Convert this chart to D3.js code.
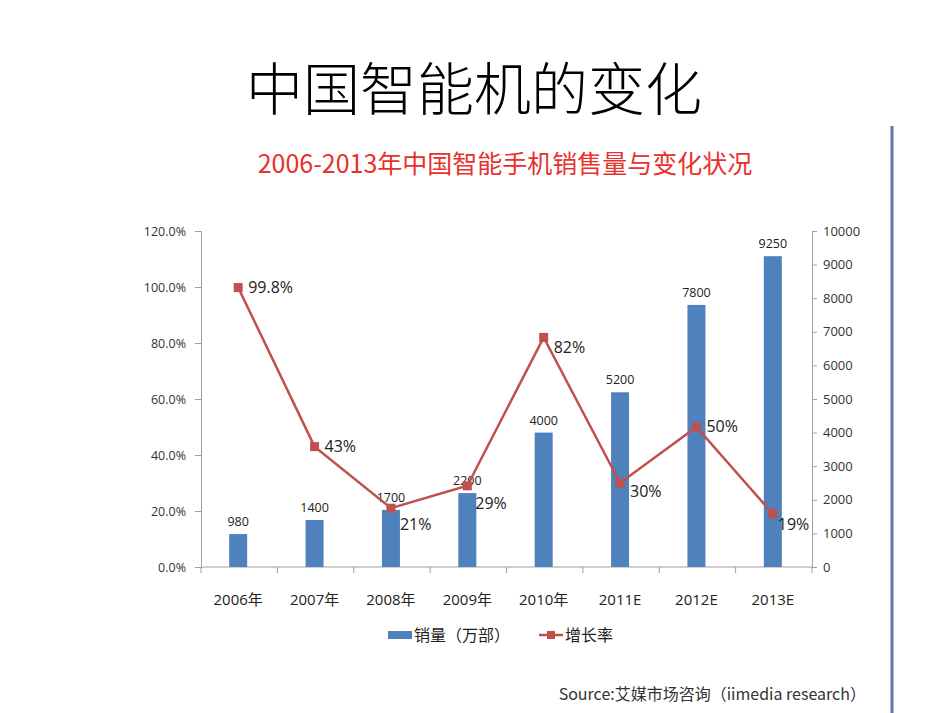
<!DOCTYPE html>
<html><head><meta charset="utf-8">
<script src="https://cdn.jsdelivr.net/npm/d3@7/dist/d3.min.js"></script>
<style>
body{margin:0;background:#fff;}
svg{display:block;}
</style></head>
<body><svg id="c" width="950" height="713"></svg>
<script>
const categories = ["2006年","2007年","2008年","2009年","2010年","2011E","2012E","2013E"];
const sales = [980,1400,1700,2200,4000,5200,7800,9250];
const growth = [0.998,0.43,0.21,0.29,0.82,0.30,0.50,0.19];
const growthLabels = ["99.8%","43%","21%","29%","82%","30%","50%","19%"];
const leftTicks = [0,0.2,0.4,0.6,0.8,1.0,1.2];
const rightTicks = [0,1000,2000,3000,4000,5000,6000,7000,8000,9000,10000];
const seriesNames = ["销量（万部）","增长率"];

// label offsets (style only)
const lineLabelOffsets = [[10,5],[10,5],[9,22],[8,23],[10,16],[10,14],[10,5],[5,16]];

const svg = d3.select("#c");
const cjk = "'Noto Sans CJK SC', 'Noto Sans', sans-serif";
const num = "'Open Sans','Liberation Sans', 'Noto Sans CJK SC', sans-serif";
const blue = "#4f81bd", red = "#c0504d";

const L = 201, R = 812, T = 231, B = 567;

svg.append("text").attr("x",474).attr("y",110).attr("text-anchor","middle")
  .attr("font-family",cjk).attr("font-size",57).attr("font-weight",300).attr("fill","#000").text("中国智能机的变化");

svg.append("text").attr("x",505).attr("y",173).attr("text-anchor","middle")
  .attr("font-family",cjk).attr("font-size",25).attr("font-weight",400).attr("fill","#e8302c")
  .text("2006-2013年中国智能手机销售量与变化状况");

// slide border line
svg.append("line").attr("x1",892).attr("x2",892).attr("y1",126).attr("y2",713)
  .attr("stroke","#5b7aa5").attr("stroke-width",3);

const x = d3.scaleBand().domain(categories).range([L,R]);
const yL = d3.scaleLinear().domain([0,1.2]).range([B,T]);
const yR = d3.scaleLinear().domain([0,10000]).range([B,T]);

// left axis
const gL = svg.append("g").attr("transform",`translate(${L},0)`)
  .call(d3.axisLeft(yL).tickValues(leftTicks).tickFormat(d3.format(".1%")).tickSizeOuter(0).tickSize(6).tickPadding(9));
gL.selectAll("path,line").attr("stroke","#a0a0a0");
gL.selectAll("text").attr("font-family",num).attr("font-size",12.5).attr("fill","#333");

// right axis
const gR = svg.append("g").attr("transform",`translate(${R},0)`)
  .call(d3.axisRight(yR).tickValues(rightTicks).tickFormat(d3.format("d")).tickSizeOuter(0).tickSize(5).tickPadding(6));
gR.selectAll("path,line").attr("stroke","#a0a0a0");
gR.selectAll("text").attr("font-family",num).attr("font-size",13).attr("fill","#333");

// x axis
const gX = svg.append("g").attr("transform",`translate(0,${B})`);
gX.append("line").attr("x1",L).attr("x2",R).attr("stroke","#a0a0a0");
gX.selectAll("line.tk").data(categories.concat([null])).join("line").attr("class","tk")
  .attr("x1",(d,i)=> i<categories.length ? x(d) : x(categories[categories.length-1])+x.bandwidth())
  .attr("x2",(d,i)=> i<categories.length ? x(d) : x(categories[categories.length-1])+x.bandwidth())
  .attr("y1",0).attr("y2",6).attr("stroke","#a0a0a0");
gX.selectAll("text").data(categories).join("text")
  .attr("x",d=>x(d)+x.bandwidth()/2-1).attr("y",38).attr("text-anchor","middle")
  .attr("font-family",num).attr("font-size",15).attr("fill","#222").text(d=>d);

// bars
const bw = 18;
svg.selectAll("rect.bar").data(sales).join("rect").attr("class","bar")
  .attr("x",(d,i)=>x(categories[i])+x.bandwidth()/2-bw/2-1)
  .attr("y",d=>yR(d)).attr("width",bw).attr("height",d=>B-yR(d)).attr("fill",blue);
svg.selectAll("text.bl").data(sales).join("text").attr("class","bl")
  .attr("x",(d,i)=>x(categories[i])+x.bandwidth()/2-1).attr("y",d=>yR(d)-8)
  .attr("text-anchor","middle").attr("font-family",num).attr("font-size",12.5).attr("fill","#222").text(d=>d);

// line
const cx = i => x(categories[i])+x.bandwidth()/2-1;
const line = d3.line().x((d,i)=>cx(i)).y(d=>yL(d));
svg.append("path").datum(growth).attr("d",line).attr("fill","none").attr("stroke",red).attr("stroke-width",2.5);
svg.selectAll("rect.mk").data(growth).join("rect").attr("class","mk")
  .attr("x",(d,i)=>cx(i)-4.5).attr("y",d=>yL(d)-4.5).attr("width",9).attr("height",9).attr("fill",red);
svg.selectAll("text.ll").data(growth).join("text").attr("class","ll")
  .attr("x",(d,i)=>cx(i)+lineLabelOffsets[i][0]).attr("y",(d,i)=>yL(d)+lineLabelOffsets[i][1])
  .attr("font-family",num).attr("font-size",16).attr("fill","#222").text((d,i)=>growthLabels[i]);

// legend
const lg = svg.append("g");
lg.append("rect").attr("x",388).attr("y",631).attr("width",24).attr("height",8).attr("fill",blue);
lg.append("text").attr("x",414).attr("y",641).attr("font-family",cjk).attr("font-size",16).attr("fill","#222").text(seriesNames[0]);
lg.append("line").attr("x1",539).attr("x2",563).attr("y1",635).attr("y2",635).attr("stroke",red).attr("stroke-width",2.5);
lg.append("rect").attr("x",547).attr("y",631).attr("width",8).attr("height",8).attr("fill",red);
lg.append("text").attr("x",565).attr("y",641).attr("font-family",cjk).attr("font-size",16).attr("fill","#222").text(seriesNames[1]);

// source
svg.append("text").attr("x",866).attr("y",700).attr("text-anchor","end")
  .attr("font-family",cjk).attr("font-size",16).attr("fill","#333").text("Source:艾媒市场咨询（iimedia research）");
</script>
</body></html>
